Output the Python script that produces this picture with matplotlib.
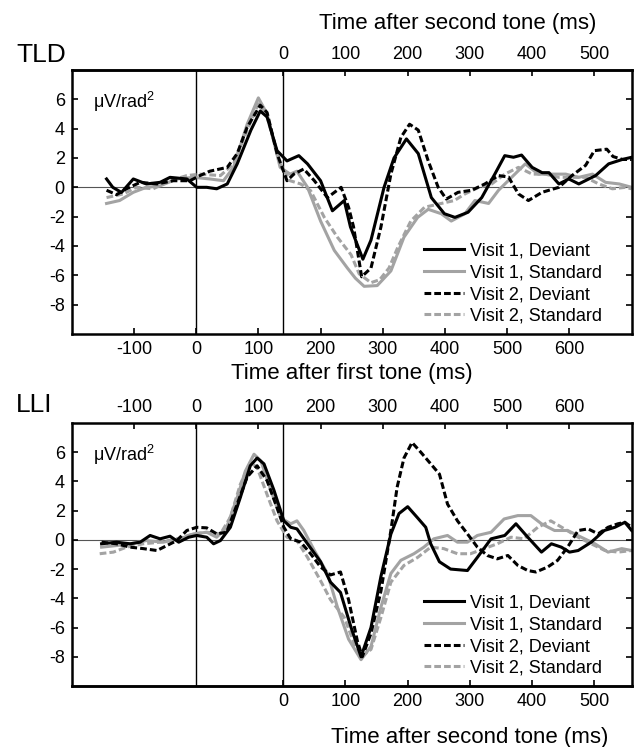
import matplotlib
matplotlib.use('Agg')
import matplotlib.pyplot as plt

plt.rcParams['font.family'] = ['Liberation Sans', 'DejaVu Sans']
plt.rcParams['axes.unicode_minus'] = False
plt.rcParams['mathtext.fontset'] = 'custom'
plt.rcParams['mathtext.rm'] = 'Liberation Sans'
plt.rcParams['mathtext.it'] = 'Liberation Sans:italic'

# second tone onset, ms after first tone
soa = 140

# ---- TLD panel (times in ms after first tone) ----
tld_v1_dev_t = [-144, -134, -120, -101, -80, -58, -42, -15, 1, 17, 33, 50, 66, 88, 103, 114, 130, 146, 165, 179,
                200, 219, 238, 248, 268, 281, 302, 318, 338, 357, 378, 399, 416, 437, 459, 480, 496, 510, 523,
                540, 556, 567, 583, 599, 615, 642, 663, 685, 700]
tld_v1_dev = [0.57, 0, -0.35, 0.57, 0.23, 0.34, 0.68, 0.57, 0, 0, -0.1, 0.23, 1.6, 3.9, 5.2, 4.8, 2.5, 1.8, 2.16, 1.6,
              0.45, -1.6, -0.9, -2.7, -4.9, -3.6, 0, 2.0, 3.3, 2.3, -0.7, -1.8, -2.05, -1.7, -0.7, 0.9, 2.16, 2.05, 2.2,
              1.36, 1.0, 1.0, 0.23, 0.57, 0.23, 0.8, 1.6, 1.9, 2.05]

tld_v2_dev_t = [-144, -128, -112, -90, -63, -37, -10, 6, 22, 50, 66, 82, 103, 114, 130, 146, 157, 173, 190, 211,
                233, 245, 253, 266, 281, 297, 313, 329, 343, 357, 373, 389, 402, 421, 443, 464, 486, 502, 518,
                534, 556, 583, 604, 626, 640, 660, 670, 685, 700]
tld_v2_dev = [-0.2, -0.5, -0.1, 0.34, 0.23, 0.45, 0.45, 0.8, 1.1, 1.36, 2.3, 4.1, 5.6, 5.1, 2.3, 0.45, 0.9, 1.25, 0.45,
              -0.7, 0, -1.36, -2.7, -6.1, -5.5, -2.7, 0.9, 3.4, 4.3, 3.9, 1.8, 0, -0.8, -0.34, -0.2, 0.23, 0.8, 0.7,
              -0.45, -0.9, -0.34, 0, 0.8, 1.5, 2.5, 2.6, 2.1, 1.9, 1.9]

tld_v1_std_t = [-144, -123, -101, -80, -58, -31, -4, 22, 44, 60, 82, 100, 114, 135, 151, 162, 179, 200, 222, 243,
                256, 270, 291, 313, 334, 356, 373, 394, 410, 432, 448, 470, 486, 507, 529, 550, 572, 594, 615,
                637, 658, 680, 700]
tld_v1_std = [-1.1, -0.9, -0.34, 0, 0.1, 0.57, 0.68, 0.57, 0.45, 1.36, 4.3, 6.1, 5.0, 1.36, 0.9, 1.1, 0, -2.3, -4.3,
              -5.5, -6.2, -6.75, -6.7, -5.7, -3.4, -2.05, -1.5, -1.8, -2.3, -1.8, -0.9, -1.1, -0.2, 0.68, 1.6, 0.9,
              0.9, 0.9, 0.68, 0.9, 0.34, 0.23, 0.0]

tld_v2_std_t = [-144, -117, -96, -69, -42, -15, 6, 39, 60, 82, 100, 114, 135, 151, 168, 184, 206, 227, 249, 262,
                281, 295, 310, 324, 345, 367, 394, 415, 432, 454, 475, 496, 518, 540, 561, 583, 604, 626, 647,
                669, 690, 700]
tld_v2_std = [-0.7, -0.45, 0, -0.1, 0.45, 0.8, 0.9, 0.8, 1.6, 3.9, 5.7, 4.8, 1.6, 0.45, 0.23, -0.23, -2.05, -3.4,
              -4.6, -5.9, -6.5, -6.3, -5.5, -4.1, -2.3, -1.36, -1.1, -0.9, -0.45, 0, 0.23, 0.9, 1.36, 0.9, 0.9,
              0.68, 0.68, 0.68, 0.23, -0.1, 0, -0.1]

# ---- LLI panel ----
lli_v1_dev_t = [-152, -128, -106, -90, -74, -58, -42, -28, -12, 1, 17, 28, 39, 55, 71, 87, 98, 109, 125, 141, 152,
                162, 179, 200, 216, 232, 249, 265, 281, 297, 313, 326, 340, 356, 369, 377, 391, 409, 436, 452,
                474, 496, 514, 533, 555, 571, 587, 600, 614, 635, 656, 673, 689, 700]
lli_v1_dev = [-0.27, -0.16, -0.27, -0.16, 0.3, 0.07, 0.25, -0.16, 0.18, 0.3, 0.18, -0.27, -0.05, 0.86, 2.9, 5.07,
              5.6, 5.2, 3.4, 1.3, 0.86, 0.75, -0.27, -1.5, -2.9, -3.6, -6.0, -8.0, -6.0, -2.5, 0.4, 1.8, 2.27, 1.5,
              0.86, -0.27, -1.5, -2.0, -2.1, -1.2, 0.07, 0.3, 1.1, 0.18, -0.84, -0.27, -0.5, -0.84, -0.73, -0.16,
              0.64, 0.86, 1.2, 0.64]

lli_v2_dev_t = [-152, -128, -106, -85, -63, -47, -31, -15, 1, 17, 33, 49, 66, 82, 98, 114, 130, 141, 152, 168, 184,
                200, 216, 232, 245, 259, 267, 281, 297, 313, 323, 334, 347, 361, 377, 391, 404, 420, 436, 452,
                468, 484, 501, 517, 533, 546, 565, 581, 597, 614, 630, 646, 662, 678, 689, 700]
lli_v2_dev = [-0.16, -0.27, -0.5, -0.6, -0.73, -0.39, -0.05, 0.64, 0.86, 0.82, 0.41, 0.52, 2.45, 4.3, 5.07, 4.05,
              2.2, 0.86, 0.07, -0.16, -0.95, -1.86, -2.4, -2.2, -4.1, -6.9, -8.0, -6.4, -3.5, 0.64, 3.6, 5.6, 6.66,
              6.0, 5.2, 4.5, 2.45, 1.3, 0.41, -0.5, -1.07, -1.3, -1.07, -1.75, -2.1, -2.2, -1.86, -1.4, -0.5, 0.64,
              0.75, 0.41, 0.86, 1.1, 1.2, 0.86]

lli_v1_std_t = [-152, -128, -106, -80, -53, -26, -4, 17, 33, 49, 66, 79, 93, 104, 120, 136, 152, 162, 173, 190,
                211, 227, 245, 265, 281, 297, 313, 329, 350, 366, 382, 404, 420, 436, 452, 474, 495, 517, 538,
                555, 576, 597, 619, 641, 662, 684, 700]
lli_v1_std = [-0.5, -0.39, -0.27, -0.05, -0.16, 0.07, 0.41, 0.52, 0.18, 0.86, 2.9, 4.7, 5.86, 5.4, 3.4, 1.5, 1.1,
              1.3, 0.64, -0.73, -2.3, -4.6, -6.8, -8.2, -7.3, -4.6, -2.3, -1.4, -0.95, -0.5, 0.07, 0.3, -0.16,
              -0.16, 0.3, 0.52, 1.43, 1.66, 1.66, 1.1, 0.64, 0.64, 0.18, -0.27, -0.84, -0.6, -0.73]

lli_v2_std_t = [-155, -133, -112, -85, -58, -31, -4, 17, 39, 55, 71, 87, 98, 114, 130, 146, 162, 179, 200, 216,
                238, 254, 265, 281, 297, 313, 334, 356, 377, 398, 420, 441, 463, 484, 506, 527, 549, 570, 592,
                614, 635, 657, 678, 700]
lli_v2_std = [-0.95, -0.84, -0.5, -0.27, -0.16, 0.07, 0.41, 0.52, 0.41, 1.55, 3.8, 5.3, 4.95, 3.1, 1.3, 0.18,
              -0.05, -1.2, -2.8, -4.1, -5.3, -7.1, -8.0, -7.5, -5.3, -2.9, -1.75, -1.2, -0.5, -0.6, -0.95, -0.95,
              -0.6, -0.27, 0.18, 0.07, 0.86, 1.3, 0.75, 0.18, -0.27, -0.73, -0.84, -0.73]

labels = ['Visit 1, Deviant', 'Visit 1, Standard', 'Visit 2, Deviant', 'Visit 2, Standard']
first_ticks = [-100, 0, 100, 200, 300, 400, 500, 600]
second_ticks = [0, 100, 200, 300, 400, 500]
y_ticks = [-8, -6, -4, -2, 0, 2, 4, 6]

gray = '#a3a3a3'
dash = (2.2, 1.0)
tick_kw = dict(direction='in', length=4, width=1.2, labelsize=13, pad=5)


def draw_panel(ax, curves):
    ax.set_xlim(-200, 700)
    ax.set_ylim(-10, 8)
    ax.axhline(0, color='#555555', lw=0.8, zorder=1)
    ax.axvline(0, color='black', lw=1.0, zorder=1)
    ax.axvline(soa, color='black', lw=1.0, zorder=1)
    styles = [dict(color='black'), dict(color=gray), dict(color='black', dashes=dash), dict(color=gray, dashes=dash)]
    # gray traces go under the black ones
    handles = [None] * 4
    for i in [1, 3, 0, 2]:
        t, v = curves[i]
        z = 4 if i in (0, 2) else 2
        handles[i], = ax.plot(t, v, lw=2.2, label=labels[i], zorder=z, **styles[i])
    ax.legend(handles=handles, loc='lower left', bbox_to_anchor=(0.63, 0.035), frameon=False, fontsize=13,
              handlelength=2.2, handletextpad=0.3, labelspacing=0.26, borderpad=0, borderaxespad=0)
    ax.set_yticks(y_ticks)
    ax.tick_params(axis='y', right=True, **tick_kw)
    ax.text(0.038, 0.88, r'μV/rad$^{2}$', transform=ax.transAxes, fontsize=13, va='center', ha='left')
    for s in ax.spines.values():
        s.set_linewidth(1.8)


fig = plt.figure(figsize=(6.38, 7.47), dpi=100)
ax1 = fig.add_axes([0.1124, 0.5529, 0.8777, 0.3534])
ax2 = fig.add_axes([0.1124, 0.0817, 0.8777, 0.3521])

draw_panel(ax1, [(tld_v1_dev_t, tld_v1_dev), (tld_v1_std_t, tld_v1_std),
                 (tld_v2_dev_t, tld_v2_dev), (tld_v2_std_t, tld_v2_std)])
draw_panel(ax2, [(lli_v1_dev_t, lli_v1_dev), (lli_v1_std_t, lli_v1_std),
                 (lli_v2_dev_t, lli_v2_dev), (lli_v2_std_t, lli_v2_std)])

to_second = (lambda x: x - soa, lambda x: x + soa)

# TLD: first tone on the bottom, second tone on top
ax1.set_xticks(first_ticks)
ax1.tick_params(axis='x', **tick_kw)
ax1.set_xlabel('Time after first tone (ms)', fontsize=16, labelpad=4)
sec1 = ax1.secondary_xaxis('top', functions=to_second)
sec1.set_xticks(second_ticks)
sec1.tick_params(axis='x', **tick_kw)
sec1.spines['top'].set_linewidth(1.8)
sec1.set_xlabel('Time after second tone (ms)', fontsize=16, labelpad=12)
sec1.xaxis.label.set_x(0.69)

# LLI: first tone on top, second tone on the bottom
ax2.set_xticks(first_ticks)
ax2.xaxis.tick_top()
ax2.tick_params(axis='x', **tick_kw)
sec2 = ax2.secondary_xaxis('bottom', functions=to_second)
sec2.set_xticks(second_ticks)
sec2.tick_params(axis='x', **tick_kw)
sec2.spines['bottom'].set_linewidth(1.8)
sec2.set_xlabel('Time after second tone (ms)', fontsize=16, labelpad=12)
sec2.xaxis.label.set_x(0.71)

fig.text(16 / 638, 1 - 55 / 747, 'TLD', fontsize=19, ha='left', va='center')
fig.text(16 / 638, 1 - 405 / 747, 'LLI', fontsize=19, ha='left', va='center')

fig.savefig('out.png', dpi=100)
